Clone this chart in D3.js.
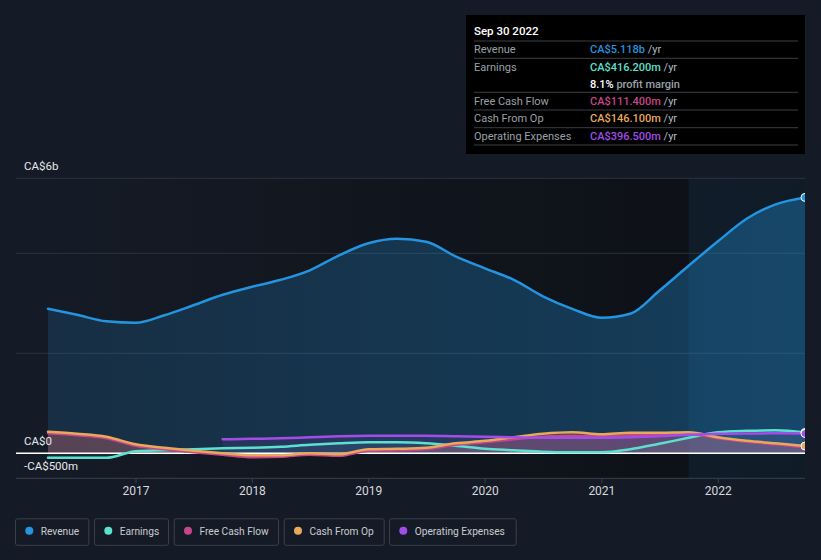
<!DOCTYPE html>
<html><head><meta charset="utf-8">
<script src="https://cdn.jsdelivr.net/npm/d3@7"></script>
<style>
html,body{margin:0;padding:0;background:#151b26;}
svg{display:block;font-family:Roboto,"Noto Sans",sans-serif;}
</style></head>
<body><svg id="c" width="821" height="560"></svg>
<script>
// ---- data (quarterly, trailing twelve months, CA$ billions) ----
const dates = ["2016-03-31","2016-06-30","2016-09-30","2016-12-31","2017-03-31","2017-06-30","2017-09-30","2017-12-31",
"2018-03-31","2018-06-30","2018-09-30","2018-12-31","2019-03-31","2019-06-30","2019-09-30","2019-12-31",
"2020-03-31","2020-06-30","2020-09-30","2020-12-31","2021-03-31","2021-06-30","2021-09-30","2021-12-31",
"2022-03-31","2022-06-30","2022-09-30"];
const revenue = [2.89,2.77,2.64,2.61,2.76,2.96,3.17,3.33,3.47,3.66,3.96,4.20,4.29,4.23,3.94,3.70,3.47,3.14,2.89,2.71,2.79,3.25,3.75,4.24,4.69,4.98,5.118];
const earnings = [-0.09,-0.09,-0.09,0.04,0.06,0.08,0.10,0.11,0.13,0.17,0.20,0.22,0.22,0.20,0.15,0.09,0.06,0.03,0.02,0.02,0.08,0.19,0.31,0.42,0.45,0.46,0.4162];
const fcf = [0.40,0.36,0.30,0.15,0.08,0.02,-0.03,-0.08,-0.07,-0.03,-0.05,0.05,0.06,0.08,0.17,0.22,0.28,0.33,0.35,0.34,0.36,0.37,0.39,0.30,0.23,0.18,0.1114];
const cfo = [0.43,0.39,0.33,0.18,0.11,0.05,0.00,-0.04,-0.04,0.00,-0.02,0.08,0.09,0.11,0.20,0.25,0.32,0.39,0.42,0.38,0.41,0.41,0.42,0.32,0.25,0.20,0.1461];
const opex = [null,null,null,null,null,null,0.28,0.29,0.30,0.32,0.34,0.35,0.35,0.35,0.34,0.33,0.32,0.31,0.31,0.31,0.32,0.34,0.37,0.39,0.395,0.40,0.3965];
const yTickVals = [0,2,4,5.5];
const yLabels = [{v:5.5,t:"CA$6b"},{v:0,t:"CA$0"},{v:-0.5,t:"-CA$500m"}];
const xYears = [2017,2018,2019,2020,2021,2022];
const seriesNames = ["Revenue","Earnings","Free Cash Flow","Cash From Op","Operating Expenses"];
const seriesColors = ["#2394df","#5ce0cf","#c7468a","#e8a95b","#a24de8"];
const tipDate = "Sep 30 2022";
const tipRows = [
 {label:"Revenue", value:"CA$5.118b", unit:" /yr", color:"#2394df"},
 {label:"Earnings", value:"CA$416.200m", unit:" /yr", color:"#5ce0cf"},
 {label:"", value:"8.1%", unit:" profit margin", color:"#ffffff"},
 {label:"Free Cash Flow", value:"CA$111.400m", unit:" /yr", color:"#c7468a"},
 {label:"Cash From Op", value:"CA$146.100m", unit:" /yr", color:"#e8a95b"},
 {label:"Operating Expenses", value:"CA$396.500m", unit:" /yr", color:"#a24de8"}
];

// ---- setup ----
const svg = d3.select("#c");
const parse = d3.utcParse("%Y-%m-%d");
const dts = dates.map(parse);
const x = d3.scaleUtc().domain([dts[0], dts[dts.length-1]]).range([48, 805]);
const y = d3.scaleLinear().domain([-0.5, 5.5]).range([478.3, 178.3]);
const left = 16, right = 805;

const defs = svg.append("defs");
const bg = defs.append("linearGradient").attr("id","bg").attr("x1","0").attr("x2","1").attr("y1","0").attr("y2","0");
bg.append("stop").attr("offset","0").attr("stop-color","#151b26");
bg.append("stop").attr("offset","1").attr("stop-color","#0c0f14");
const rg = defs.append("linearGradient").attr("id","revg").attr("x1","0").attr("x2","1").attr("y1","0").attr("y2","0");
rg.append("stop").attr("offset","0").attr("stop-color","#2394df").attr("stop-opacity",0.16);
rg.append("stop").attr("offset","1").attr("stop-color","#2394df").attr("stop-opacity",0.36);

// plot background
svg.append("rect").attr("x",48).attr("y",178.3).attr("width",right-48).attr("height",300).attr("fill","url(#bg)");
// highlight last year
const hx = x(parse("2021-09-30"));
svg.append("rect").attr("x",hx).attr("y",178.3).attr("width",right-hx).attr("height",300).attr("fill","#1a4a6e").attr("opacity",0.22);

// grid
svg.append("g").selectAll("line").data(yTickVals).join("line")
 .attr("x1",left).attr("x2",right).attr("y1",d=>y(d)).attr("y2",d=>y(d))
 .attr("stroke","#2c333e").attr("stroke-width",1);

const pts = arr => arr.map((v,i)=>({d:dts[i],v})).filter(p=>p.v!==null);
const lineG = d3.line().x(p=>x(p.d)).y(p=>y(p.v)).curve(d3.curveMonotoneX);
const areaG = d3.area().x(p=>x(p.d)).y0(y(0)).y1(p=>y(p.v)).curve(d3.curveMonotoneX);

// revenue area
svg.append("path").attr("d",areaG(pts(revenue))).attr("fill","url(#revg)");
// small-series areas
[[fcf,"#c7468a",0.25],[cfo,"#e8a95b",0.12],[opex,"#a24de8",0.12]].forEach(([a,c,o])=>{
  svg.append("path").attr("d",areaG(pts(a))).attr("fill",c).attr("opacity",o);
});
svg.append("path").attr("d",areaG(pts(earnings))).attr("fill","#5ce0cf").attr("opacity",0.08);

// zero line
svg.append("line").attr("x1",left).attr("x2",right).attr("y1",y(0)).attr("y2",y(0)).attr("stroke","#ffffff").attr("stroke-width",1.5);

// lines
const lines = [[earnings,seriesColors[1]],[fcf,seriesColors[2]],[cfo,seriesColors[3]],[opex,seriesColors[4]],[revenue,seriesColors[0]]];
lines.forEach(([a,c])=>{
  svg.append("path").attr("d",lineG(pts(a))).attr("fill","none").attr("stroke",c).attr("stroke-width",2.5).attr("stroke-linecap","round");
});
// end dots
[[revenue,0],[earnings,1],[opex,4],[cfo,3]].forEach(([a,i])=>{
  const p = pts(a); const last = p[p.length-1];
  svg.append("circle").attr("cx",x(last.d)).attr("cy",y(last.v)).attr("r",4).attr("fill",seriesColors[i]).attr("stroke","#fff").attr("stroke-width",1);
});

// mask right of plot
svg.append("rect").attr("x",right).attr("y",170).attr("width",821-right).attr("height",320).attr("fill","#151b26");

// x axis
svg.append("line").attr("x1",left).attr("x2",right).attr("y1",478.3).attr("y2",478.3).attr("stroke","#3a414c").attr("stroke-width",1);
const xt = svg.append("g");
xYears.forEach(yr=>{
  const xx = x(new Date(Date.UTC(yr,0,1)));
  xt.append("line").attr("x1",xx).attr("x2",xx).attr("y1",478.3).attr("y2",483).attr("stroke","#3a414c");
  xt.append("text").attr("x",xx).attr("y",495).attr("text-anchor","middle").attr("fill","#d6d9de").attr("font-size",12).text(yr);
});
// y labels
const yl = [{t:yLabels[0].t,yy:170},{t:yLabels[1].t,yy:445},{t:yLabels[2].t,yy:470}];
yl.forEach(l=>svg.append("text").attr("x",24).attr("y",l.yy).attr("fill","#e6e8eb").attr("font-size",11.5).text(l.t));

// legend
const legX = [15,94,173.7,283.7,389];
const legW = [74.3,75,105.3,101,127.7];
seriesNames.forEach((n,i)=>{
  const g = svg.append("g").attr("transform",`translate(${legX[i]},518.3)`);
  g.append("rect").attr("x",0.5).attr("y",0.5).attr("width",legW[i]-1).attr("height",26.5).attr("rx",2).attr("fill","#151b26").attr("stroke","#3a3f48");
  g.append("circle").attr("cx",14.3).attr("cy",12.5).attr("r",4).attr("fill",seriesColors[i]);
  g.append("text").attr("x",25.7).attr("y",16.5).attr("fill","#c9ccd1").attr("font-size",10.2).text(n);
});

// tooltip
const tg = svg.append("g");
tg.append("rect").attr("x",466).attr("y",15).attr("width",339).attr("height",139).attr("fill","#000");
tg.append("text").attr("x",474).attr("y",35).attr("fill","#fff").attr("font-size",11.5).attr("font-weight",500).text(tipDate);
const sepY = [41,58.3,92.3,110,127.7,145];
sepY.forEach(s=>tg.append("line").attr("x1",474).attr("x2",798).attr("y1",s).attr("y2",s).attr("stroke","#3b3f45"));
const rowY = [53,70.5,87.5,104.5,122,139.5];
tipRows.forEach((r,i)=>{
  if(r.label) tg.append("text").attr("x",474).attr("y",rowY[i]).attr("fill","#9aa0a8").attr("font-size",11).text(r.label);
  const t = tg.append("text").attr("x",590).attr("y",rowY[i]).attr("font-size",11);
  t.append("tspan").attr("fill",r.color).attr("font-weight",500).text(r.value);
  t.append("tspan").attr("fill",i===2?"#9aa0a8":"#b5bac1").attr("font-weight",i===2?500:400).text(r.unit);
});
</script></body></html>
